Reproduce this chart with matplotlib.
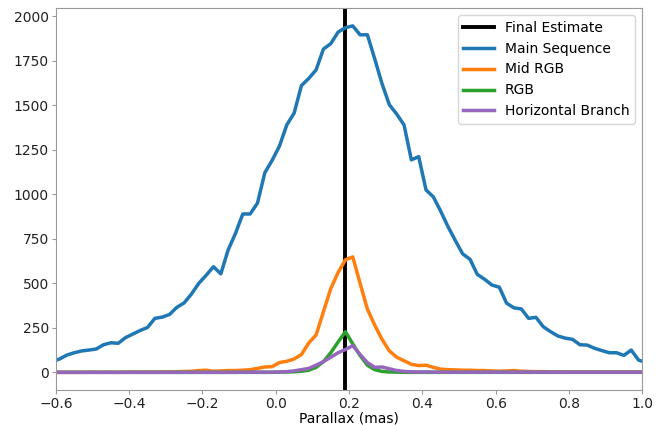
import numpy as np
import matplotlib
matplotlib.use("Agg")
import matplotlib.pyplot as plt

###### DATA ######
# bin centres of the parallax histogram (mas)
parallax = np.round(np.arange(-0.61, 1.0101, 0.02), 2)

final_estimate = 0.19

main_sequence = [
    60, 75, 97, 110, 120, 125, 131, 155, 166, 163,
    195, 215, 235, 252, 303, 310, 325, 365, 390, 440,
    500, 545, 593, 553, 687, 780, 889, 889, 950, 1120,
    1190, 1270, 1389, 1455, 1610, 1650, 1698, 1815, 1845, 1910,
    1935, 1945, 1895, 1895, 1760, 1620, 1502, 1450, 1389, 1193,
    1211, 1024, 985, 905, 818, 740, 665, 635, 550, 522,
    490, 478, 388, 362, 356, 303, 309, 256, 228, 204,
    192, 185, 155, 153, 135, 122, 110, 110, 95, 125,
    69, 55,
]

mid_rgb = [
    0, 0, 0, 0, 0, 1, 1, 0, 1, 0,
    1, 2, 1, 2, 2, 2, 3, 3, 5, 6,
    10, 12, 6, 8, 10, 10, 12, 15, 22, 30,
    32, 55, 62, 75, 100, 165, 210, 340, 470, 560,
    632, 648, 500, 355, 265, 185, 120, 85, 65, 45,
    38, 40, 28, 18, 15, 14, 12, 12, 10, 10,
    8, 6, 8, 10, 6, 5, 4, 4, 3, 3,
    3, 2, 2, 2, 2, 2, 2, 2, 2, 2,
    2, 2,
]

rgb = [
    0, 0, 0, 0, 0, 0, 0, 0, 0, 0,
    0, 0, 0, 0, 0, 0, 0, 0, 0, 0,
    0, 0, 0, 0, 0, 0, 0, 0, 0, 0,
    0, 1, 2, 3, 6, 12, 28, 60, 110, 170,
    228, 160, 95, 40, 15, 5, 2, 1, 0, 0,
    0, 0, 0, 0, 0, 0, 0, 0, 0, 0,
    0, 0, 0, 0, 0, 0, 0, 0, 0, 0,
    0, 0, 0, 0, 0, 0, 0, 0, 0, 0,
    0, 0,
]

horizontal_branch = [
    0, 0, 0, 0, 0, 0, 0, 0, 0, 0,
    0, 0, 0, 0, 0, 0, 0, 0, 0, 0,
    0, 0, 0, 0, 0, 0, 1, 1, 1, 1,
    1, 2, 4, 8, 15, 22, 40, 60, 85, 110,
    128, 150, 100, 55, 28, 30, 20, 10, 5, 3,
    2, 2, 1, 1, 1, 1, 1, 1, 1, 1,
    1, 1, 1, 1, 1, 1, 1, 1, 1, 1,
    1, 1, 1, 1, 1, 1, 1, 1, 1, 1,
    1, 1,
]

###### PLOTTING ######
plt.rcParams['font.family'] = ['DejaVu Sans']
plt.rcParams['font.size'] = 10

fig = plt.figure(figsize=(6.58, 4.25), dpi=100)
ax = fig.add_axes([0.085, 0.082, 0.891, 0.899])

ax.axvline(final_estimate, color='black', lw=2.8, label='Final Estimate')
ax.plot(parallax, main_sequence, color='#1f77b4', lw=2.5, label='Main Sequence')
ax.plot(parallax, mid_rgb, color='#ff7f0e', lw=2.5, label='Mid RGB')
ax.plot(parallax, rgb, color='#2ca02c', lw=2.5, label='RGB')
ax.plot(parallax, horizontal_branch, color='#9467bd', lw=2.5, label='Horizontal Branch')

ax.set_xlim(-0.6, 1.0)
ax.set_ylim(-100, 2045)
ax.set_yticks([0, 250, 500, 750, 1000, 1250, 1500, 1750, 2000])
ax.set_xlabel('Parallax (mas)', labelpad=0)

for s in ax.spines.values():
    s.set_color('#999999')
ax.tick_params(color='#999999', colors='#222222', length=3, pad=2)

ax.legend(loc='upper right', fontsize=10, handlelength=2.2)

fig.savefig('out.png', dpi=100)
